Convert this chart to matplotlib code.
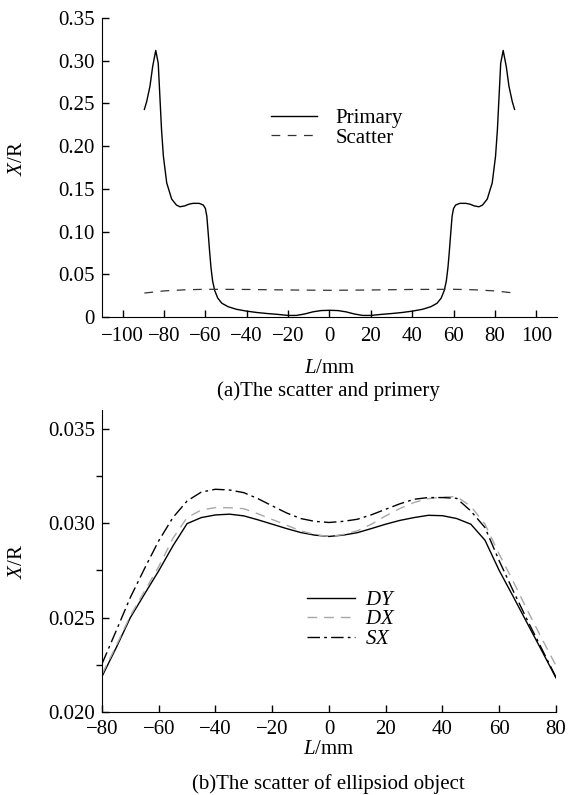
import numpy as np
import matplotlib
matplotlib.use("Agg")
import matplotlib.pyplot as plt
from matplotlib.ticker import MultipleLocator

plt.rcParams['font.family'] = ['Liberation Serif', 'DejaVu Serif']
plt.rcParams['mathtext.fontset'] = 'custom'
plt.rcParams['mathtext.it'] = 'Liberation Serif:italic'
plt.rcParams['mathtext.rm'] = 'Liberation Serif'

# (a) primary and scatter along L
prim_L = [-89.5, -88.4, -86.8, -85.5, -84.0, -82.8, -82.0, -81.2, -80.3, -78.7,
          -76.3, -74.0, -72.3, -70.0, -68.0, -66.0, -63.0, -61.0, -60.0, -59.3,
          -58.7, -58.0, -57.3, -56.5, -55.5, -54.0, -52.0, -49.0, -45.0, -40.0,
          -35.0, -30.0, -25.0, -20.0, -16.0, -12.0, -8.0, -4.0, 0.0,
          4.0, 8.0, 12.0, 16.0, 20.0, 25.0, 30.0, 35.0, 40.0, 45.0, 49.0,
          52.0, 54.0, 55.5, 56.5, 57.3, 58.0, 58.7, 59.3, 60.0, 61.0, 63.0,
          66.0, 68.0, 70.0, 72.3, 74.0, 76.3, 78.7, 80.3, 81.2, 82.0, 82.8,
          84.0, 85.5, 86.8, 88.4, 89.5]
prim_v = [0.243, 0.252, 0.270, 0.293, 0.312, 0.297, 0.258, 0.219, 0.188, 0.157,
          0.138, 0.131, 0.129, 0.130, 0.132, 0.133, 0.133, 0.131, 0.127, 0.118,
          0.100, 0.078, 0.058, 0.042, 0.031, 0.022, 0.016, 0.012, 0.009, 0.0068,
          0.0052, 0.0040, 0.0030, 0.0018, 0.0018, 0.0035, 0.0060, 0.0075, 0.0078,
          0.0075, 0.0060, 0.0035, 0.0018, 0.0018, 0.0030, 0.0040, 0.0052, 0.0068,
          0.009, 0.012, 0.016, 0.022, 0.031, 0.042, 0.058, 0.078, 0.100, 0.118,
          0.127, 0.131, 0.133, 0.133, 0.132, 0.130, 0.129, 0.131, 0.138, 0.157,
          0.188, 0.219, 0.258, 0.297, 0.312, 0.293, 0.270, 0.252, 0.243]

scat_L = [-89.5, -80, -70, -60, -40, -20, 0, 20, 40, 60, 70, 80, 89.5]
scat_v = [0.0280, 0.0305, 0.0318, 0.0324, 0.0322, 0.0316, 0.0312,
          0.0316, 0.0322, 0.0324, 0.0318, 0.0305, 0.0280]

# (b) scatter of ellipsoid object
ell_L = [-80, -75, -70, -65, -60, -55, -50, -45, -40, -35, -30, -25, -20, -15,
         -10, -5, 0, 5, 10, 15, 20, 25, 30, 35, 40, 45, 50, 55, 60, 65, 70, 75, 80]
dy = [0.02188, 0.02340, 0.02500, 0.02625, 0.02748, 0.02880, 0.02998, 0.03030,
      0.03044, 0.03048, 0.03039, 0.03018, 0.02995, 0.02972, 0.02951, 0.02937,
      0.02930, 0.02937, 0.02950, 0.02972, 0.02995, 0.03015, 0.03030, 0.03042,
      0.03040, 0.03025, 0.02995, 0.02910, 0.02750, 0.02610, 0.02467, 0.02325,
      0.02181]
dx = [0.02200, 0.02350, 0.02510, 0.02640, 0.02770, 0.02920, 0.03030, 0.03070,
      0.03083, 0.03082, 0.03077, 0.03050, 0.03020, 0.02990, 0.02960, 0.02940,
      0.02930, 0.02940, 0.02960, 0.02995, 0.03039, 0.03078, 0.03110, 0.03130,
      0.03139, 0.03141, 0.03090, 0.02995, 0.02836, 0.02690, 0.02537, 0.02390,
      0.02246]
sx = [0.02255, 0.02430, 0.02607, 0.02760, 0.02907, 0.03030, 0.03118, 0.03165,
      0.03180, 0.03176, 0.03162, 0.03130, 0.03092, 0.03055, 0.03025, 0.03010,
      0.03004, 0.03010, 0.03021, 0.03045, 0.03074, 0.03103, 0.03127, 0.03136,
      0.03136, 0.03132, 0.03065, 0.02977, 0.02801, 0.02640, 0.02484, 0.02335,
      0.02185]

fs = 15
fig = plt.figure(figsize=(5.71, 7.95), dpi=100)

# ---- top panel
ax1 = fig.add_axes([0.1786, 0.6013, 0.7968, 0.3761])
ax1.plot(prim_L, prim_v, color='black', lw=1.0, label='Primary')
ax1.plot(scat_L, scat_v, color='#333333', lw=0.9, dashes=(7, 6), label='Scatter')
ax1.set_xlim(-110, 110)
ax1.set_ylim(0, 0.35)
ax1.set_xticks(np.arange(-100, 101, 20))
ax1.set_yticks(np.arange(0, 0.351, 0.05))
ax1.set_yticklabels(['0', '0.05', '0.10', '0.15', '0.20', '0.25', '0.30', '0.35'])
ax1.tick_params(axis='x', direction='in', length=5, width=1, pad=7, labelsize=fs)
ax1.tick_params(axis='y', direction='in', length=5, width=1, pad=5, labelsize=fs)
ax1.set_ylabel(r'$X$/R', fontsize=fs)
ax1.set_xlabel(r'$L$/mm', fontsize=fs)
ax1.yaxis.set_label_coords(-0.165, 0.53)
ax1.xaxis.set_label_coords(0.5, -0.142)
ax1.spines['top'].set_visible(False)
ax1.spines['right'].set_visible(False)
ax1.legend(loc='upper left', bbox_to_anchor=(0.33, 0.76), frameon=False,
           fontsize=fs, handlelength=2.2, handletextpad=0.9, labelspacing=0.0)
fig.text(0.575, 0.508, '(a)The scatter and primery', ha='center', va='center', fontsize=fs)

# ---- bottom panel
ax2 = fig.add_axes([0.1786, 0.1044, 0.795, 0.3799])
ax2.plot(ell_L, dy, color='black', lw=1.0, label=r'$DY$')
ax2.plot(ell_L, dx, color='#a8a8a8', lw=1.0, dashes=(7, 5), label=r'$DX$')
ax2.plot(ell_L, sx, color='black', lw=1.0, dashes=(9, 3, 2, 3), label=r'$SX$')
ax2.set_xlim(-80, 80)
ax2.set_ylim(0.020, 0.036)
ax2.set_xticks(np.arange(-80, 81, 20))
ax2.set_yticks([0.020, 0.025, 0.030, 0.035])
ax2.set_yticklabels(['0.020', '0.025', '0.030', '0.035'])
ax2.yaxis.set_minor_locator(MultipleLocator(0.0025))
ax2.tick_params(axis='x', direction='in', length=5, width=1, pad=6, labelsize=fs)
ax2.tick_params(axis='y', which='major', direction='in', length=5, width=1, pad=5, labelsize=fs)
ax2.tick_params(axis='y', which='minor', direction='out', length=4, width=1)
ax2.set_ylabel(r'$X$/R', fontsize=fs)
ax2.set_xlabel(r'$L$/mm', fontsize=fs)
ax2.yaxis.set_label_coords(-0.165, 0.5)
ax2.xaxis.set_label_coords(0.5, -0.093)
ax2.spines['top'].set_visible(False)
ax2.spines['right'].set_visible(False)
ax2.legend(loc='upper left', bbox_to_anchor=(0.41, 0.465), frameon=False,
           fontsize=fs, handlelength=2.3, handletextpad=0.5, labelspacing=0.0)
fig.text(0.575, 0.0138, '(b)The scatter of ellipsiod object', ha='center', va='center', fontsize=fs)

fig.savefig('out.png', dpi=100)
